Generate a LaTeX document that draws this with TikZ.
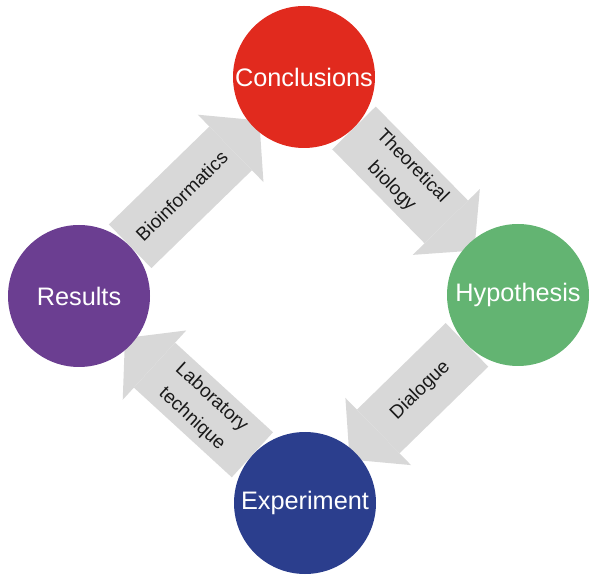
\documentclass[tikz,border=0pt]{standalone}
\usepackage{fontspec}
\setmainfont{Liberation Sans}
\usetikzlibrary{arrows.meta,backgrounds}
\definecolor{mauDo}{RGB}{225,42,30}
\definecolor{mauLuc}{RGB}{99,180,114}
\definecolor{mauLam}{RGB}{43,62,141}
\definecolor{mauTim}{RGB}{107,62,145}
\definecolor{mauXam}{RGB}{216,216,216}
\definecolor{mauChu}{RGB}{25,25,25}
\begin{document}
\begin{tikzpicture}[
	buoc/.style={circle,minimum size=2.84cm,inner sep=0pt,text=white,font=\fontsize{14.4}{17}\selectfont},
	mui/.style={color=mauXam,line width=1.22cm,-{Triangle[width=1.88cm,length=0.8cm,line width=0pt]},shorten >=-0.18cm},
	nhan/.style={pos=0.42,sloped,text=mauChu,align=center,font=\fontsize{10.8}{16.5}\selectfont},
	]
	\useasboundingbox (0,0) rectangle (11.78,-11.5);
	\path
	(6.08,-1.54) node[buoc,fill=mauDo] (C) {Conclusions}    % <<< tren
	(10.36,-5.9) node[buoc,fill=mauLuc] (H) {Hypothesis}    % <<< phai
	(6.1,-10.06) node[buoc,fill=mauLam] (E) {Experiment}    % <<< duoi
	(1.58,-5.92) node[buoc,fill=mauTim] (R) {Results};      % <<< trai
	\begin{scope}[on background layer]
		\draw[mui] (R)--(C) node[nhan] {Bioinformatics};
		\draw[mui] (C)--(H) node[nhan] {Theoretical\\biology};
		\draw[mui] (H)--(E) node[nhan] {Dialogue};
		\draw[mui] (E)--(R) node[nhan] {Laboratory\\technique};
	\end{scope}
\end{tikzpicture}
\end{document}
